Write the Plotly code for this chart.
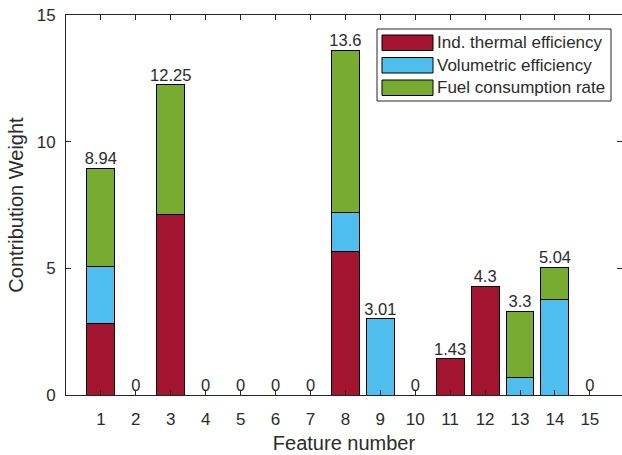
import plotly.graph_objects as go

# Contribution of each input feature to the three engine targets
features = list(range(1, 16))
ind_thermal = [2.83, 0, 7.12, 0, 0, 0, 0, 5.68, 0, 0, 1.43, 4.30, 0, 0, 0]
volumetric = [2.23, 0, 0, 0, 0, 0, 0, 1.53, 3.01, 0, 0, 0, 0.68, 3.78, 0]
fuel_rate = [3.88, 0, 5.13, 0, 0, 0, 0, 6.39, 0, 0, 0, 0, 2.62, 1.26, 0]
series_names = ["Ind. thermal efficiency", "Volumetric efficiency", "Fuel consumption rate"]
colors = ["#A2142F", "#4DBEEE", "#77AC30"]

totals = [round(a + b + c, 2) for a, b, c in zip(ind_thermal, volumetric, fuel_rate)]
total_labels = [f"{t:g}" for t in totals]

FONT = "Liberation Sans, Arial, Helvetica, sans-serif"
TXT = "#2b2b2b"

W, H = 622, 455
ML, MR, MT, MB = 66, 0, 15, 60
PW, PH = W - ML - MR, H - MT - MB


def px_x(p):
    return (p - ML) / PW


def px_y(p):
    return (H - MB - p) / PH


fig = go.Figure()
for name, vals, col in zip(series_names, [ind_thermal, volumetric, fuel_rate], colors):
    fig.add_trace(go.Bar(
        x=features,
        y=[v if v else None for v in vals],
        name=name,
        width=0.8,
        marker=dict(color=col, line=dict(color="#000000", width=1)),
        showlegend=False,
        hoverinfo="skip",
    ))

fig.add_trace(go.Scatter(
    x=features, y=totals, mode="text", text=total_labels,
    textposition="top center",
    textfont=dict(family=FONT, size=16.5, color=TXT),
    showlegend=False, hoverinfo="skip",
))

# Legend box drawn by hand so the colour swatches are wide
shapes = [dict(type="rect", xref="paper", yref="paper",
               x0=px_x(377), x1=px_x(611), y0=px_y(101), y1=px_y(29),
               line=dict(color="#262626", width=1), fillcolor="white", layer="above")]
annotations = []
row_tops = [35, 57.5, 80]
for name, col, top in zip(series_names, colors, row_tops):
    shapes.append(dict(type="rect", xref="paper", yref="paper",
                       x0=px_x(382), x1=px_x(433), y0=px_y(top + 15.5), y1=px_y(top),
                       line=dict(color="#000000", width=1), fillcolor=col, layer="above"))
    annotations.append(dict(xref="paper", yref="paper", x=px_x(435), y=px_y(top + 7.8),
                            text=name, showarrow=False, xanchor="left", yanchor="middle",
                            font=dict(family=FONT, size=17, color=TXT)))

fig.update_layout(
    width=W, height=H,
    margin=dict(l=ML, r=MR, t=MT, b=MB),
    paper_bgcolor="white", plot_bgcolor="white",
    barmode="stack",
    shapes=shapes, annotations=annotations,
    font=dict(family=FONT, color=TXT),
    xaxis=dict(
        range=[0, 15.92], tickvals=features, ticktext=[str(f) for f in features],
        ticks="inside", ticklen=5, tickcolor="#262626",
        showline=True, linecolor="#262626", linewidth=1, mirror="ticks",
        showgrid=False, zeroline=False,
        tickfont=dict(family=FONT, size=17, color=TXT),
        ticklabelstandoff=9,
        title=dict(text="Feature number", font=dict(family=FONT, size=20, color=TXT), standoff=7),
    ),
    yaxis=dict(
        range=[0, 15], tickvals=[0, 5, 10, 15],
        ticks="inside", ticklen=5, tickcolor="#262626",
        showline=True, linecolor="#262626", linewidth=1, mirror="ticks",
        showgrid=False, zeroline=False,
        tickfont=dict(family=FONT, size=17, color=TXT),
        ticklabelstandoff=6,
        title=dict(text="Contribution Weight", font=dict(family=FONT, size=20, color=TXT), standoff=7),
    ),
)

fig.write_html("out.html")
